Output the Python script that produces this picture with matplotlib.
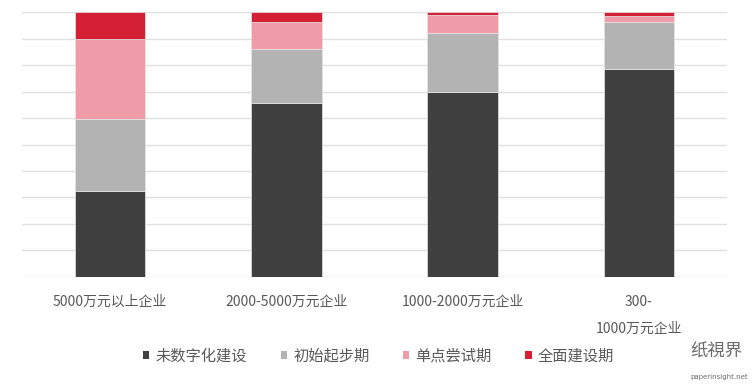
import matplotlib
matplotlib.use("Agg")
import matplotlib.pyplot as plt
from matplotlib.patches import Patch
import numpy as np

plt.rcParams['font.family'] = ['Noto Sans CJK SC', 'DejaVu Sans']

# categories and stacked shares (%)
categories = ['5000万元以上企业', '2000-5000万元企业', '1000-2000万元企业', '300-\n1000万元企业']
series_names = ['未数字化建设', '初始起步期', '单点尝试期', '全面建设期']
not_digital = [32.4, 65.8, 70.0, 78.6]
initial = [27.2, 20.3, 22.1, 17.9]
single_point = [30.4, 10.4, 6.8, 2.0]
full_build = [10.0, 3.5, 1.1, 1.5]
colors = ['#404040', '#b3b3b3', '#f09ca8', '#d51f35']

fig = plt.figure(figsize=(7.54, 3.86), dpi=100)
ax = fig.add_axes([22 / 754, 1 - 276.7 / 386, 705 / 754, (276.7 - 12.3) / 386])

x = np.arange(len(categories))
bottom = np.zeros(len(categories))
for vals, col in zip([not_digital, initial, single_point, full_build], colors):
    ax.bar(x, vals, width=0.4, bottom=bottom, color=col,
           edgecolor='#e6e6e6', linewidth=0.5, zorder=3)
    bottom += np.array(vals)

ax.set_xlim(-0.5, len(categories) - 0.5)
ax.set_ylim(0, 100)
ax.set_yticks(np.arange(0, 101, 10))
ax.yaxis.grid(True, color='#e0e0e0', linewidth=1.0, zorder=0)
ax.tick_params(axis='y', left=False, labelleft=False)
ax.tick_params(axis='x', length=0, pad=13, labelsize=10, labelcolor='#595959')
ax.set_xticks(x)
ax.set_xticklabels(categories, linespacing=2.2)
for s in ax.spines.values():
    s.set_visible(False)

handles = [Patch(facecolor=c, edgecolor='none') for c in colors]
fig.legend(handles, series_names, loc='center', bbox_to_anchor=(378.5 / 754, 1 - 356 / 386),
           ncol=4, frameon=False, fontsize=11, labelcolor='#595959',
           handlelength=0.42, handleheight=0.42, handletextpad=0.4, columnspacing=2.2)

# watermark
fig.text(690 / 754, 1 - 352 / 386, '纸視界', fontsize=12.5, color='#6b6b6b', ha='left', va='center')
fig.text(690 / 754, 1 - 377 / 386, 'paperinsight.net', fontsize=5, color='#6b6b6b', ha='left', va='center',
         family='DejaVu Sans')

fig.savefig('out.png', dpi=100)
